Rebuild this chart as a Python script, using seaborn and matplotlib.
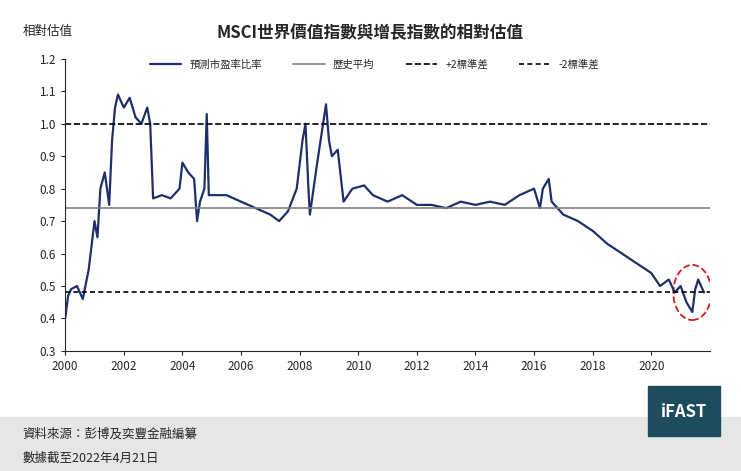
import matplotlib
matplotlib.use("Agg")
import matplotlib.pyplot as plt
import seaborn as sns
import pandas as pd
from matplotlib.patches import Ellipse, Rectangle

sns.set_style("white")
plt.rcParams['font.family'] = ['Noto Sans CJK TC', 'DejaVu Sans']

years = [2000.0,2000.1,2000.2,2000.4,2000.6,2000.8,2001.0,2001.1,2001.2,2001.35,2001.5,2001.6,2001.7,2001.8,2002.0,2002.2,2002.4,2002.6,2002.8,2002.9,2003.0,2003.3,2003.6,2003.9,2004.0,2004.2,2004.4,2004.5,2004.6,2004.75,2004.83,2004.9,2005.2,2005.5,2006.0,2006.5,2007.0,2007.3,2007.6,2007.9,2008.1,2008.2,2008.3,2008.35,2008.6,2008.8,2008.9,2009.0,2009.1,2009.3,2009.45,2009.5,2009.8,2010.2,2010.5,2011.0,2011.5,2012.0,2012.5,2013.0,2013.5,2014.0,2014.5,2015.0,2015.5,2016.0,2016.2,2016.3,2016.5,2016.6,2017.0,2017.5,2018.0,2018.5,2019.0,2019.5,2020.0,2020.3,2020.6,2020.8,2021.0,2021.2,2021.4,2021.5,2021.6,2021.8]
ratio = [0.40,0.47,0.49,0.50,0.46,0.55,0.70,0.65,0.80,0.85,0.75,0.95,1.05,1.09,1.05,1.08,1.02,1.00,1.05,1.00,0.77,0.78,0.77,0.80,0.88,0.85,0.83,0.70,0.76,0.80,1.03,0.78,0.78,0.78,0.76,0.74,0.72,0.70,0.73,0.80,0.95,1.00,0.80,0.72,0.88,1.00,1.06,0.95,0.90,0.92,0.80,0.76,0.80,0.81,0.78,0.76,0.78,0.75,0.75,0.74,0.76,0.75,0.76,0.75,0.78,0.80,0.74,0.80,0.83,0.76,0.72,0.70,0.67,0.63,0.60,0.57,0.54,0.50,0.52,0.48,0.50,0.45,0.42,0.49,0.52,0.48]
mean_val, plus2, minus2 = 0.74, 1.00, 0.48
labels = ['預測市盈率比率', '歷史平均', '+2標準差', '-2標準差']

df = pd.DataFrame({'year': years, 'ratio': ratio})
fig = plt.figure(figsize=(7.41, 4.71), dpi=100)
ax = fig.add_axes([0.088, 0.255, 0.87, 0.62])
sns.lineplot(data=df, x='year', y='ratio', ax=ax, color='#1f2f6b', lw=1.6, label=labels[0])
ax.axhline(mean_val, color='#808080', lw=1.2, label=labels[1])
ax.axhline(plus2, color='black', lw=1.2, ls='--', label=labels[2])
ax.axhline(minus2, color='black', lw=1.2, ls=(0,(3,2)), label=labels[3])
ax.add_patch(Ellipse((2021.4, 0.48), 1.3, 0.17, fill=False, ec='#cc1f1f', ls='--', lw=1.3))
ax.set_xlim(2000, 2022)
ax.set_ylim(0.3, 1.2)
ax.set_xticks(range(2000, 2022, 2))
ax.set_yticks([0.3,0.4,0.5,0.6,0.7,0.8,0.9,1.0,1.1,1.2])
ax.set_yticklabels([f'{v:.1f}' for v in ax.get_yticks()])
ax.tick_params(labelsize=8.5, length=3, direction='out', bottom=True, left=True)
for s in ['top','right']:
    ax.spines[s].set_visible(False)
ax.set_xlabel(''); ax.set_ylabel('')
ax.legend(loc='upper center', bbox_to_anchor=(0.48, 1.03), ncol=4, frameon=False, fontsize=7.5, handlelength=3, columnspacing=3)
fig.text(0.5, 0.92, 'MSCI世界價值指數與增長指數的相對估值', ha='center', fontsize=12, weight='bold')
fig.text(0.03, 0.925, '相對估值', fontsize=9)
fig.patches.append(Rectangle((0, 0), 1, 0.115, transform=fig.transFigure, color='#e6e6e6', zorder=0))
fig.patches.append(Rectangle((0.875, 0.075), 0.097, 0.105, transform=fig.transFigure, color='#1d4c5c', zorder=1))
fig.text(0.923, 0.125, 'iFAST', ha='center', va='center', fontsize=12, weight='bold', color='white')
fig.text(0.03, 0.072, '資料來源：彭博及奕豐金融編纂', fontsize=9)
fig.text(0.03, 0.02, '數據截至2022年4月21日', fontsize=9)
fig.savefig('out.png', dpi=100)
